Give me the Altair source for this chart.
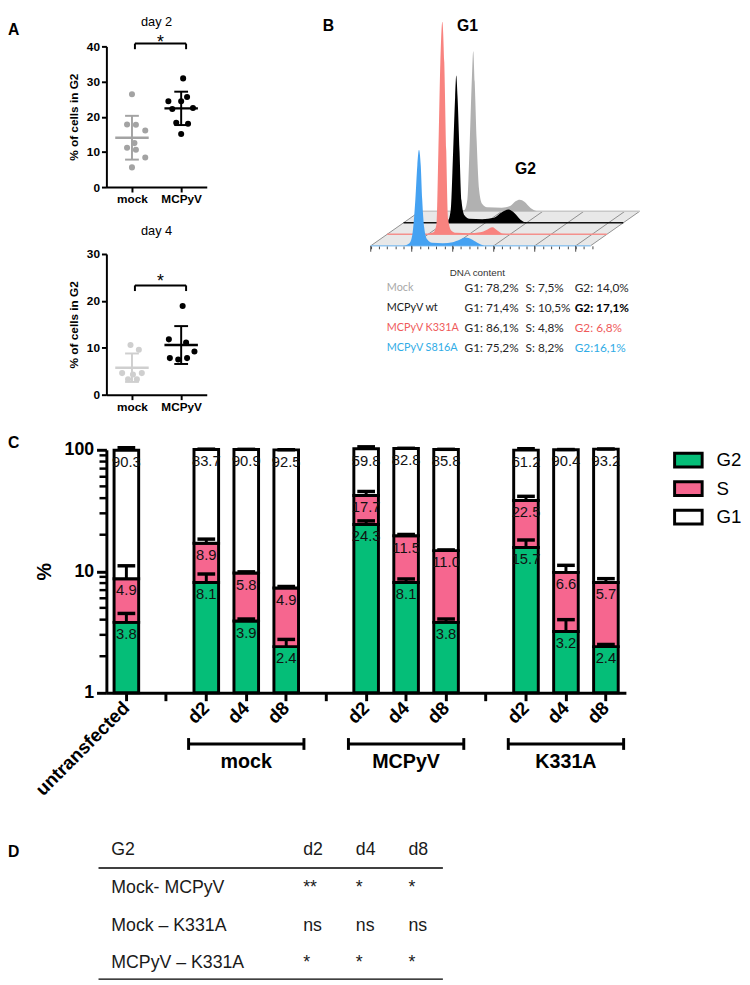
import altair as alt
import pandas as pd

FONT = "Liberation Sans, Arial, Helvetica, sans-serif"
NARROW = "Liberation Sans Narrow, Arial Narrow, Liberation Sans, Arial, sans-serif"
CAL = "Lato, Liberation Sans, Arial, sans-serif"

# ============================ DATA ============================
# ---- Panel A : % of cells in G2, one value per replicate (+ horizontal spread of the dot) ----
day2_mock = [26.4, 17.8, 17.7, 16.1, 12.5, 11.2, 10.6, 8.4, 5.6]
day2_mock_spread = [0.0, -0.10, 0.08, 0.27, 0.05, -0.10, 0.08, 0.27, 0.0]
day2_mcpyv = [30.9, 25.6, 24.4, 24.4, 22.5, 22.2, 18.3, 18.0, 15.1]
day2_mcpyv_spread = [0.04, 0.12, -0.26, 0.0, 0.24, -0.18, -0.10, 0.14, 0.0]
day4_mock = [10.6, 9.6, 4.6, 4.3, 4.6, 3.3, 3.3]
day4_mock_spread = [-0.03, 0.14, -0.20, 0.02, 0.20, -0.08, 0.10]
day4_mcpyv = [18.9, 11.8, 11.1, 9.2, 7.8, 7.5, 7.8]
day4_mcpyv_spread = [0.03, -0.25, 0.10, 0.27, -0.23, -0.06, 0.12]

# ---- Panel B : DNA-content histograms (channel, count above own baseline) ----
b_series = ["Mock", "MCPyV wt", "MCPyV K331A", "MCPyV S816A"]
b_depth = [3, 2, 1, 0]
b_fill = ["#b1b1b1", "#000000", "#f8837f", "#45a2f2"]
b_line = ["#c8c8c8", "#111111", "#f4908c", "#95c6ee"]
h_mock_x = [45.8, 54.2, 57.8, 60.8, 63.2, 65, 66.8, 69.2, 72.2, 75.8, 81.8, 99.8, 110.6, 116.6, 121.8, 127.4, 134.6, 143]
h_mock_y = [0, 1.2, 11.7, 71.7, 131.7, 162.7, 131.7, 71.7, 21.7, 7.7, 4.2, 3.7, 5.7, 10.2, 11.7, 9.7, 3.7, 0]
h_wt_x = [45.5, 53.9, 57.5, 60.5, 62.9, 64.3, 65.9, 68.3, 70.7, 74.3, 80.3, 95.9, 110.3, 119.9, 127.9, 135.5, 142.7, 149.9]
h_wt_y = [0, 1.7, 12.7, 72.7, 127.7, 149.7, 127.7, 72.7, 22.7, 7.7, 4.2, 3.7, 5.2, 10.7, 13.4, 9.7, 3.2, 0]
h_k331a_x = [46.9, 56.5, 60.1, 62.5, 64.9, 67.3, 69.7, 72.1, 74.5, 78.1, 84.1, 99.9, 113.3, 121.2, 128.4, 134.4, 141.6, 148.8]
h_k331a_y = [0, 2, 10, 85, 175, 216, 175, 85, 15, 4, 1.5, 1, 2, 4.5, 7.3, 4, 0.5, 0]
h_s816a_x = [40, 47.2, 50.8, 54.4, 56.8, 58.8, 61, 62.8, 65.2, 68.8, 74.8, 88, 100, 108.4, 115.6, 122.8, 130, 138.4]
h_s816a_y = [0, 2.7, 11.7, 46.7, 81.7, 97.7, 81.7, 46.7, 18.7, 6.7, 3.2, 2.7, 3.7, 6.2, 8.4, 6.7, 3.2, 0]
b_minor_ticks = list(range(0, 271, 10))
b_major_ticks = [0, 50, 100, 150, 200, 250]
b_floor_len = 268

b_names = ["Mock", "MCPyV wt", "MCPyV K331A", "MCPyV S816A"]
b_name_col = ["#a8a8a8", "#1a1a1a", "#ef5b5b", "#30acE6"]
b_g1 = ["G1: 78,2%", "G1: 71,4%", "G1: 86,1%", "G1: 75,2%"]
b_s = ["S: 7,5%", "S: 10,5%", "S: 4,8%", "S: 8,2%"]
b_g2 = ["G2: 14,0%", "G2: 17,1%", "G2: 6,8%", "G2:16,1%"]
b_g2_col = ["#262626", "#000000", "#ef5b5b", "#30acE6"]
b_g2_bold = [False, True, False, False]

# ---- Panel C : cell-cycle phase distribution (%) ----
c_slots = ["00untransfected", "01", "02d2", "03d4", "04d8", "05", "06d2", "07d4", "08d8",
           "09", "10d2", "11d4", "12d8"]
c_bar_slots = ["00untransfected", "02d2", "03d4", "04d8", "06d2", "07d4", "08d8", "10d2", "11d4", "12d8"]
c_g2 = [3.8, 8.1, 3.9, 2.4, 24.3, 8.1, 3.8, 15.7, 3.2, 2.4]
c_s = [4.9, 8.9, 5.8, 4.9, 17.7, 11.5, 11.0, 22.5, 6.6, 5.7]
c_g1 = [90.3, 83.7, 90.9, 92.5, 59.8, 82.8, 85.8, 61.2, 90.4, 93.2]
c_g2_sd = [0.7, 1.4, 0.15, 0.35, 1.7, 0.55, 0.25, 2.4, 0.8, 0.1]
c_s_sd = [2.4, 1.4, 0.2, 0.2, 3.4, 0.5, 0.2, 3.2, 1.4, 0.6]
c_g1_sd = [5.0, 0.5, 0.3, 0.3, 4.0, 0.5, 0.3, 2.6, 0.3, 0.3]
c_phases = ["G2", "S", "G1"]
c_colors = ["#05be78", "#f6668f", "#ffffff"]
c_minor_ticks = [2, 3, 4, 5, 6, 7, 8, 9, 20, 30, 40, 50, 60, 70, 80, 90]
c_groups = ["mock", "MCPyV", "K331A"]
c_group_first = ["02d2", "06d2", "10d2"]
c_group_mid = ["03d4", "07d4", "11d4"]
c_group_last = ["04d8", "08d8", "12d8"]

# ---- Panel D : significance table ----
d_header = ["G2", "d2", "d4", "d8"]
d_rows = ["Mock- MCPyV", "Mock \u2013 K331A", "MCPyV \u2013 K331A"]
d_d2 = ["**", "ns", "*"]
d_d4 = ["*", "ns", "*"]
d_d8 = ["*", "ns", "*"]


# ============================ HELPERS ============================
def txt(text, x, y, size, weight="normal", align="left", baseline="middle", color="black", font=FONT):
    return alt.Chart(pd.DataFrame({"t": [text]})).mark_text(
        fontSize=size, fontWeight=weight, align=align, baseline=baseline, color=color, font=font
    ).encode(text="t:N", x=alt.value(x), y=alt.value(y))


# ============================ PANEL A ============================
def panel_a(mock_v, mock_j, mcp_v, mcp_j, mock_col, ymax, br_y, br_drop, star_y, title, title_y, letter=None):
    df = pd.DataFrame({"g": [0] * len(mock_v) + [1] * len(mcp_v), "j": mock_j + mcp_j, "v": mock_v + mcp_v})
    xs = alt.Scale(domain=[-0.52, 1.52], nice=False, zero=False)
    ys = alt.Scale(domain=[0, ymax], nice=False, zero=True)
    xax = alt.Axis(values=[0, 1], labelExpr="datum.value == 0 ? 'mock' : 'MCPyV'", title=None, grid=False,
                   tickSize=5, tickWidth=2, domainWidth=2, labelFontSize=12, labelFontWeight="bold",
                   labelPadding=2, domainColor="black", tickColor="black", labelColor="black", labelFlush=False)
    yax = alt.Axis(values=list(range(0, ymax + 1, 10)), title="% of cells in G2", titleFontSize=12,
                   titleFontWeight="bold", titlePadding=6, titleColor="black", grid=False, tickSize=5, tickWidth=2,
                   domainWidth=2, labelFontSize=12, labelFontWeight="bold", labelPadding=2,
                   domainColor="black", tickColor="black", labelColor="black")

    def X(f):
        return alt.X(f, scale=xs, axis=xax)

    def Y(f):
        return alt.Y(f, scale=ys, axis=yax)

    layers = []
    for gi, col in ((0, mock_col), (1, "#000000")):
        sub = alt.Chart(df).transform_filter(f"datum.g == {gi}")
        layers.append(sub.transform_calculate(xp="datum.g + datum.j").mark_circle(size=38, opacity=1, color=col)
                      .encode(x=X("xp:Q"), y=Y("v:Q")))
        st = sub.transform_aggregate(m="mean(v)", s="stdev(v)", groupby=["g"]).transform_calculate(
            lo="datum.m - datum.s", hi="datum.m + datum.s")
        layers.append(st.mark_rule(color=col, strokeWidth=2.5, xOffset=-17, x2Offset=17)
                      .encode(x=X("g:Q"), x2="g", y=Y("m:Q")))
        layers.append(st.mark_rule(color=col, strokeWidth=2).encode(x=X("g:Q"), y=Y("lo:Q"), y2="hi"))
        for f in ("lo", "hi"):
            layers.append(st.mark_rule(color=col, strokeWidth=2, xOffset=-7, x2Offset=7)
                          .encode(x=X("g:Q"), x2="g", y=Y(f + ":Q")))
    bdf = pd.DataFrame({"x1": [0.06], "x2": [1.10], "xm": [0.58], "y": [br_y], "yd": [br_y - br_drop], "ys": [star_y]})
    bc = alt.Chart(bdf)
    layers.append(bc.mark_rule(color="black", strokeWidth=2).encode(x=X("x1:Q"), x2="x2", y=Y("y:Q")))
    layers.append(bc.mark_rule(color="black", strokeWidth=2).encode(x=X("x1:Q"), y=Y("y:Q"), y2="yd"))
    layers.append(bc.mark_rule(color="black", strokeWidth=2).encode(x=X("x2:Q"), y=Y("y:Q"), y2="yd"))
    layers.append(bc.mark_text(text="*", fontSize=18, font=FONT, baseline="middle")
                  .encode(x=X("xm:Q"), y=Y("ys:Q")))
    layers.append(txt(title, 51, title_y, 13, align="center", baseline="top"))
    if letter:
        layers.append(txt(letter, -100, -17, 16, weight="bold"))
    return alt.layer(*layers).properties(width=102, height=143)


a2 = panel_a(day2_mock, day2_mock_spread, day2_mcpyv, day2_mcpyv_spread, "#a3a3a3", 40,
             40.8, 1.6, 41.0, "day 2", -31, letter="A")
a4 = panel_a(day4_mock, day4_mock_spread, day4_mcpyv, day4_mcpyv_spread, "#cfcfcf", 30,
             23.3, 1.2, 24.1, "day 4", -29)

# ============================ PANEL B ============================
DXL, DYL = 20.0, 11.7   # pseudo-3D step between successive histograms
hxs = alt.Scale(domain=[-62, 394], nice=False, zero=False)
hys = alt.Scale(domain=[-147.3, 202.7], nice=False, zero=False)
hax = alt.Axis(values=b_minor_ticks, labels=False, domain=False, tickSize=3, tickWidth=1, tickColor="#444",
               grid=False, title=None, offset=-147.3)


def HX(f):
    return alt.X(f, scale=hxs, axis=hax)


def HY(f):
    return alt.Y(f, scale=hys, axis=None)


hist_x = [h_mock_x, h_wt_x, h_k331a_x, h_s816a_x]
hist_y = [h_mock_y, h_wt_y, h_k331a_y, h_s816a_y]

floor_df = pd.DataFrame({
    "x": [0, 3 * DXL, b_floor_len, b_floor_len + 3 * DXL],
    "lo": [0, 0, 0, 3 * DYL],
    "hi": [0, 3 * DYL, 3 * DYL, 3 * DYL],
})
hist_layers = [
    alt.Chart(floor_df).mark_area(color="#e8e8e8", opacity=1).encode(x=HX("x:Q"), y=HY("lo:Q"), y2="hi"),
    alt.Chart(pd.DataFrame({"m": b_major_ticks + [b_floor_len]}))
    .transform_calculate(m2=f"datum.m + {3 * DXL}", y0="0", y1=f"{3 * DYL}")
    .mark_rule(color="#777777", strokeWidth=0.8).encode(x=HX("m:Q"), x2="m2", y=HY("y0:Q"), y2="y1"),
]
for name, d, fc, lc, xv, yv in zip(b_series, b_depth, b_fill, b_line, hist_x, hist_y):
    ldf = pd.DataFrame({"a": [0], "b": [b_floor_len]})
    hist_layers.append(
        alt.Chart(ldf).transform_calculate(xa=f"datum.a + {d * DXL}", xb=f"datum.b + {d * DXL}", yl=f"{d * DYL}")
        .mark_rule(color=lc, strokeWidth=1.5).encode(x=HX("xa:Q"), x2="xb", y=HY("yl:Q"))
    )
    cdf = pd.DataFrame({"x": xv, "y": yv})
    hist_layers.append(
        alt.Chart(cdf).transform_calculate(px=f"datum.x + {d * DXL}", py=f"datum.y + {d * DYL}", pb=f"{d * DYL}")
        .mark_area(color=fc, opacity=1, interpolate="monotone").encode(x=HX("px:Q"), y=HY("py:Q"), y2="pb")
    )
hist_layers.append(
    alt.Chart(pd.DataFrame({"m": b_major_ticks})).transform_calculate(y0="0", y1="-6")
    .mark_rule(color="#444", strokeWidth=1).encode(x=HX("m:Q"), y=HY("y0:Q"), y2="y1")
)
hist_layers += [
    txt("B", 3, -21, 16, weight="bold"),
    txt("G1", 150, -21, 16, weight="bold", align="center"),
    txt("G2", 209, 125, 16, weight="bold", align="center"),
    txt("DNA content", 160, 230, 10, align="center", color="#333333"),
]
hist = alt.layer(*hist_layers)

tdf = pd.DataFrame({"name": b_names, "ncol": b_name_col, "g1": b_g1, "s": b_s, "g2": b_g2,
                    "g2col": b_g2_col, "bold": b_g2_bold})
rows_b = alt.Scale(type="point", domain=b_names, range=[246, 307], padding=0)
TY = alt.Y("name:N", scale=rows_b, axis=None)
tb = alt.Chart(tdf)
table_b = alt.layer(
    tb.mark_text(fontSize=11, font=CAL, align="left", baseline="middle").encode(
        text="name:N", x=alt.value(68), y=TY, color=alt.Color("ncol:N", scale=None)),
    tb.mark_text(fontSize=12, font=CAL, align="left", baseline="middle", color="#262626").encode(
        text="g1:N", x=alt.value(147), y=TY),
    tb.mark_text(fontSize=12, font=CAL, align="left", baseline="middle", color="#262626").encode(
        text="s:N", x=alt.value(209), y=TY),
    tb.transform_filter("!datum.bold").mark_text(fontSize=12, font=CAL, align="left", baseline="middle").encode(
        text="g2:N", x=alt.value(259), y=TY, color=alt.Color("g2col:N", scale=None)),
    tb.transform_filter("datum.bold").mark_text(fontSize=12, font=CAL, fontWeight="bold", align="left",
                                                 baseline="middle").encode(
        text="g2:N", x=alt.value(259), y=TY, color=alt.Color("g2col:N", scale=None)),
)
panel_b = alt.layer(hist, table_b).resolve_scale(y="independent").properties(width=380, height=350)

# ============================ PANEL C ============================
CW, CH = 528, 247
seg_rows = []
for i, sl in enumerate(c_bar_slots):
    vals = {"G2": c_g2[i], "S": c_s[i], "G1": c_g1[i]}
    sds = {"G2": c_g2_sd[i], "S": c_s_sd[i], "G1": c_g1_sd[i]}
    base = 0.0
    for ph in c_phases:
        top = base + vals[ph]
        seg_rows.append({"slot": sl, "phase": ph, "y0": max(base, 1.0), "y1": top,
                         "lbl": f"{vals[ph]:.1f}", "err": top + sds[ph]})
        base = top
seg = pd.DataFrame(seg_rows)

cx = alt.Scale(type="band", domain=c_slots, paddingInner=0, paddingOuter=0)
cy = alt.Scale(type="log", domain=[1, 100], nice=False)
cxax = alt.Axis(title=None, labelExpr="substring(datum.value, 2)", labelAngle=-45, labelAlign="right",
                labelBaseline="middle", labelFontSize=19, labelFontWeight="bold", labelPadding=4, tickSize=8,
                tickWidth=3, domainWidth=3, tickColor="black", domainColor="black", labelColor="black", grid=False)
cyax = alt.Axis(title="%", values=[1, 10, 100], format="d", titleFontSize=20, titleFontWeight="bold",
                titlePadding=10, titleColor="black", labelFontSize=18, labelFontWeight="bold", labelPadding=3,
                tickSize=10, tickWidth=3, domainWidth=3, tickColor="black", domainColor="black",
                labelColor="black", grid=False)


def CX(f):
    return alt.X(f, scale=cx, axis=cxax)


def CY(f):
    return alt.Y(f, scale=cy, axis=cyax)


legend_c = alt.Legend(title=None, orient="none", legendX=576, legendY=-5, direction="vertical",
                      symbolType="M-1,-0.5H1V0.5H-1Z", symbolSize=784, symbolStrokeColor="black",
                      symbolStrokeWidth=3, symbolOpacity=1, labelFontSize=19, labelOffset=13,
                      labelColor="black", labelFont=FONT, rowPadding=0)
bars = alt.Chart(seg).mark_bar(size=25, stroke="black", strokeWidth=3, opacity=1).encode(
    x=CX("slot:N"), y=CY("y0:Q"), y2="y1",
    color=alt.Color("phase:N", scale=alt.Scale(domain=c_phases, range=c_colors), legend=legend_c),
)
err_v = alt.Chart(seg).mark_rule(color="black", strokeWidth=3).encode(x=CX("slot:N"), y=CY("y1:Q"), y2="err")
err_c = alt.Chart(seg).mark_rule(color="black", strokeWidth=3.5, xOffset=-9, x2Offset=9).encode(
    x=CX("slot:N"), x2="slot", y=CY("err:Q"))
labels = alt.Chart(seg).mark_text(font=NARROW, fontSize=15, color="#111111", baseline="middle", dy=12).encode(
    x=CX("slot:N"), y=CY("y1:Q"), text="lbl:N")
minor = alt.Chart(pd.DataFrame({"m": c_minor_ticks})).mark_rule(color="black", strokeWidth=2.5).encode(
    y=CY("m:Q"), x=alt.value(-7), x2=alt.value(0))
gdf = pd.DataFrame({"grp": c_groups, "first": c_group_first, "mid": c_group_mid, "last": c_group_last})
gch = alt.Chart(gdf)
br_h = gch.mark_rule(color="black", strokeWidth=3, xOffset=-18, x2Offset=18).encode(
    x=CX("first:N"), x2="last", y=alt.value(CH + 52))
br_l = gch.mark_rule(color="black", strokeWidth=3, xOffset=-18).encode(
    x=CX("first:N"), y=alt.value(CH + 46), y2=alt.value(CH + 58))
br_r = gch.mark_rule(color="black", strokeWidth=3, xOffset=18).encode(
    x=CX("last:N"), y=alt.value(CH + 46), y2=alt.value(CH + 58))
br_t = gch.mark_text(font=FONT, fontSize=20, fontWeight="bold", baseline="alphabetic").encode(
    x=CX("mid:N"), y=alt.value(CH + 76), text="grp:N")
panel_c = alt.layer(bars, err_v, err_c, labels, minor, br_h, br_l, br_r, br_t,
                    txt("C", -100, -7, 16, weight="bold")).properties(width=CW, height=CH)

# ============================ PANEL D ============================
d_row_domain = [d_header[0]] + d_rows
d_rows_scale = alt.Scale(type="point", domain=d_row_domain, range=[8, 123], padding=0)
d_cols_scale = alt.Scale(type="point", domain=d_header[1:], range=[200, 307], padding=0)
dval = []
for c in d_header[1:]:
    dval.append({"row": d_header[0], "col": c, "t": c})
for r, a, b, c in zip(d_rows, d_d2, d_d4, d_d8):
    dval += [{"row": r, "col": "d2", "t": a}, {"row": r, "col": "d4", "t": b}, {"row": r, "col": "d8", "t": c}]
dval = pd.DataFrame(dval)
dnames = pd.DataFrame({"row": d_row_domain})
DY = alt.Y("row:N", scale=d_rows_scale, axis=None)
panel_d = alt.layer(
    alt.Chart(dnames).mark_text(font=FONT, fontSize=18, color="#1a1a1a", align="left", baseline="middle").encode(
        text="row:N", x=alt.value(5), y=DY),
    alt.Chart(dval).mark_text(font=FONT, fontSize=18, color="#1a1a1a", align="left", baseline="middle").encode(
        text="t:N", x=alt.X("col:N", scale=d_cols_scale, axis=None), y=DY),
    alt.Chart(pd.DataFrame({"k": [0]})).mark_rule(color="black", strokeWidth=1.5).encode(
        x=alt.value(-8), x2=alt.value(342), y=alt.value(26)),
    alt.Chart(pd.DataFrame({"k": [0]})).mark_rule(color="black", strokeWidth=1.5).encode(
        x=alt.value(-8), x2=alt.value(342), y=alt.value(139)),
    txt("D", -100, 10, 16, weight="bold"),
).properties(width=350, height=140)

# ============================ LAYOUT ============================
acol = alt.vconcat(a2, a4, spacing=21)
top = alt.hconcat(acol, alt.vconcat(panel_b), spacing=115)
cwrap = alt.vconcat(panel_c).resolve_scale(color="independent").resolve_legend(color="independent")
dwrap = alt.vconcat(panel_d)
upper = alt.vconcat(top, cwrap, spacing=23).resolve_scale(color="independent").resolve_legend(color="independent")
chart = alt.vconcat(upper, dwrap, spacing=43).resolve_scale(color="independent").resolve_legend(
    color="independent").properties(padding=0)
chart = chart.configure_view(stroke=None).configure_axis(labelFont=FONT, titleFont=FONT)

chart.save("out.html", embed_options={"renderer": "svg", "actions": False})
